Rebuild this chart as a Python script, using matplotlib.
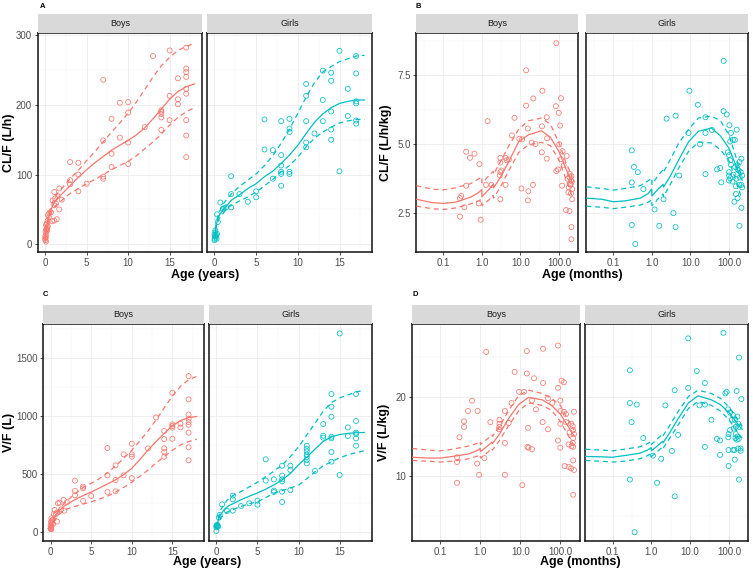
import numpy as np
import matplotlib
matplotlib.use("Agg")
import matplotlib.pyplot as plt
from matplotlib.ticker import FixedLocator, NullFormatter

plt.rcParams['font.family'] = ['Liberation Sans', 'DejaVu Sans']

boys_col = '#F8766D'
girls_col = '#00BFC4'

# ---------------- observed individual estimates ----------------
# panel A: CL/F (L/h) vs age (years)
cl_boys = [(13,270),(15,278),(17,282),(17,252),(17,247),(17,240),(7,236),(16,238),(9,203),(10,204),
           (10,189),(8,180),(15,213),(16,208),(16,201),(14,192),(14,190),(14,187),(14,182),(12,168),
           (15,178),(14,164),(17,178),(17,156),(17,125),(17,223),(17,216),(7,149),(9,153),(10,146),
           (8,130),(8,111),(10,115),(7,97),(7,94),(3,118),(4,117),(4,100),(3,92),(3,86),(5,87),(4,76),
           (1.7,80),(1.1,75),(1.5,69),(1.2,66),(2,64),(0.9,63),(1.7,50),(1.3,58),(1.1,56),(1.1,34),
           (1.4,36),(0.85,33),(0.5,45),(0.7,46),(0.35,42),(0.45,39),(0.3,34),(0.2,30),(0.25,24),
           (0.12,21),(0.1,28),(0.05,18),(0.15,15),(0.02,12),(0.08,10),(0.0,8),(0.03,6),(0.1,4),
           (0.2,22),(0.3,26),(0.25,20)]
cl_girls = [(15,277.5),(17,270),(13,249),(14,246),(14,234.5),(17,245),(11,230),(11,213),(16,223),
            (13,207),(14,190.5),(17,205),(17,202),(16,184),(6,179),(8,176.6),(9,180),(11,176.6),
            (13,176.6),(9,166),(9,161),(14,164.6),(14,150),(17,177.5),(17,173),(11,146),(11,139),
            (12,159),(6,136),(7,135),(8,128),(8,113),(8,104),(8,101),(9,104),(9,101),(7,94),(8,84),
            (15,104.7),(2,97.6),(2,72),(2,53),(3,72),(4,61),(5,76),(5,67.5),(0.7,60),(1.4,53),
            (1.2,52),(1.0,51),(0.3,43),(0.4,32),(0.1,20),(0.1,17),(0,14),(0.05,12),(0.15,10),
            (0.02,8),(0.25,8),(0,6),(0.3,15),(0.2,13)]

# panel B: CL/F (L/h/kg) vs age (months)
clkg_boys = [(85,8.66),(14,7.68),(37,6.94),(21.5,6.66),(14,6.40),(112,6.67),(83,6.38),(98,6.14),
             (1.4,5.84),(7,5.96),(48,5.98),(107,5.68),(15.5,5.57),(36,5.65),(6,5.32),(9.3,5.2),
             (11,5.18),(19.5,5.06),(24.5,5.01),(49,5.22),(101,5.0),(35.7,4.71),(48,4.48),(85,4.03),
             (94,4.09),(112,4.46),(123,4.75),(132,4.24),(158,4.58),(120,3.50),(166,3.75),(186,3.81),
             (204,3.69),(209,3.85),(219,3.38),(174,3.26),(204,3.22),(219,3.01),(151,2.62),(186,2.58),
             (209,2.0),(209,1.56),(178,3.44),(195,3.56),(0.39,4.73),(0.49,4.51),(0.64,4.66),
             (0.86,4.28),(0.39,3.50),(0.29,3.13),(0.27,3.05),(0.35,2.72),(0.27,2.38),(0.83,2.86),
             (0.93,2.27),(1.27,3.53),(1.77,3.53),(3,4.51),(3,4.34),(3,3.99),(2.9,3.87),(3,3.01),
             (4.1,4.51),(4.4,4.42),(4.1,3.53),(10.6,3.40),(16,3.30),(15.5,2.97),(21,3.53),(3.2,4.05),
             (5,4.45),(200,3.55),(190,3.93),(215,3.65)]
clkg_girls = [(72.5,8.02),(9.4,6.94),(15.5,6.43),(2.4,5.93),(4.1,6.04),(72,6.20),(87,6.08),(24.5,5.98),
              (8.9,5.41),(24.5,5.41),(36,5.52),(102,5.69),(158,5.53),(112,5.41),(126,5.16),(141,5.16),
              (107,5.10),(17.6,5.0),(93,4.71),(100,4.61),(107,4.42),(112,4.26),(209,4.48),(186,4.36),
              (166,4.24),(145,4.18),(166,4.09),(178,4.05),(200,3.99),(219,3.87),(100,3.99),(100,3.87),
              (107,3.77),(100,3.69),(123,3.65),(151,3.48),(186,3.53),(209,3.53),(219,3.44),(63,3.62),
              (49,4.09),(59,4.14),(24.5,3.92),(5.1,3.87),(0.30,4.78),(0.34,4.18),(0.43,3.99),
              (0.30,3.62),(0.6,3.38),(2.0,3.01),(1.17,2.64),(0.30,2.08),(0.37,1.39),(1.55,2.05),
              (3.6,2.51),(4.1,2.0),(138,2.92),(166,3.05),(186,2.05),(209,2.70),(151,3.2),(130,3.9),
              (155,3.75),(190,3.8)]

# panel C: V/F (L) vs age (years)
v_boys = [(17,1342),(15,1199),(17,1142),(13,987),(17,1012),(17,976),(17,947),(17,924),(15,927),
          (15,913),(15,899),(16,933),(16,901),(17,856),(14,870),(14,801),(14,721),(14,693),(14,650),
          (15,804),(17,730),(17,618),(12,721),(7,724),(10,761),(10,670),(10,650),(9,670),(8,575),
          (7,489),(9,489),(8,449),(10,466),(8,352),(7,346),(3,444),(3,355),(3,318),(4,392),(4,378),
          (4,269),(5,312),(2,258),(1.6,278),(1.7,186),(1.3,197),(1.1,255),(0.9,249),(0.8,169),
          (0.65,155),(0.5,192),(0.4,157),(0.25,106),(0.1,120),(0.2,100),(0.05,90),(0.15,80),
          (0.3,70),(0.0,60),(0.1,50),(0.05,40),(0.0,30),(0.1,25),(0.8,92),(0,34)]
v_girls = [(15,1709),(14,1188),(17,1188),(14,1079),(14,993),(13,930),(13,830),(13,813),(14,821),
           (14,807),(16,901),(17,956),(17,856),(17,844),(16,827),(17,807),(17,744),(14,690),(14,607),
           (11,744),(11,718),(11,695),(11,667),(11,647),(11,621),(11,592),(12,527),(15,492),(6,627),
           (8,572),(9,572),(9,535),(6,444),(7,455),(8,487),(8,455),(8,438),(8,260),(7,358),(7,346),
           (8,349),(9,363),(5,272),(5,237),(4,249),(3,226),(2,315),(2,283),(2,186),(0.7,240),
           (1.3,183),(0.4,149),(0.3,126),(0.1,63),(0.0,54),(0.2,49),(0.0,43),(0.05,60),(0.15,57),
           (0,11)]

# panel D: V/F (L/kg) vs age (months)
vkg_boys = [(87,26.4),(37,26.0),(14.5,25.7),(1.4,25.6),(7.2,23.1),(14.5,22.9),(22,22.3),(37,21.7),
            (87,21.1),(107,22.0),(123,21.8),(9.3,20.6),(12.3,20.6),(19.5,19.5),(49,19.8),(63,19.2),
            (100,19.5),(24.5,18.4),(100,18.2),(123,18.1),(138,17.8),(219,18.1),(6,19.2),(0.62,19.5),
            (0.49,18.2),(0.39,16.9),(0.39,16.2),(0.85,18.2),(0.30,14.9),(0.26,12.4),(0.26,11.8),
            (0.26,9.2),(0.83,11.6),(0.93,10.2),(1.26,12.3),(1.78,16.8),(4.1,18.2),(3,17.1),(3,16.6),
            (3,16.2),(2.9,15.9),(4.1,14.2),(4.1,10.2),(5.1,16.7),(15.5,16.1),(15,13.7),(16,13.6),
            (19.5,13.4),(11.2,8.9),(36,16.8),(49,15.9),(87,14.5),(100,13.6),(100,16.6),(138,16.8),
            (186,16.6),(204,16.3),(209,15.8),(219,15.3),(209,14.8),(204,14.2),(190,13.8),(209,13.7),
            (128,11.3),(161,11.2),(186,11.0),(219,10.8),(209,12.0),(209,7.7),(170,15.5),(160,14.0)]
vkg_girls = [(72,28.0),(8.9,27.3),(182,24.9),(0.28,23.3),(14.8,23.2),(24,21.7),(8.9,21.1),(4.0,20.8),
             (87,20.6),(81,20.4),(158,20.7),(209,19.7),(0.28,19.2),(0.42,19.0),(2.3,18.9),(17.4,18.9),
             (24,19.0),(95,18.4),(107,18.0),(126,17.7),(120,17.1),(141,17.1),(166,17.5),(174,16.6),
             (186,16.2),(151,16.2),(132,16.0),(107,15.8),(98,15.3),(151,15.3),(166,15.0),(178,14.7),
             (96,14.9),(147,14.8),(158,14.6),(35.5,17.1),(0.31,16.8),(4.9,15.2),(0.62,14.8),(49,14.7),
             (59,14.5),(24,13.7),(98,13.3),(128,13.3),(138,13.3),(174,13.5),(200,13.5),(200,13.2),
             (59,12.7),(1.1,12.6),(1.8,12.2),(3.4,13.2),(98,11.3),(141,12.1),(0.28,9.6),(182,9.6),
             (1.4,9.2),(4.0,7.5),(0.37,3.0)]

# ---------------- model prediction curves (median, 5th, 95th) ----------------
age_grid = [0, 0.1, 0.25, 0.5, 1, 1.5, 2, 3, 4, 5, 6, 7, 8, 9, 10, 11, 12, 13, 14, 15, 16, 17, 18]
cl_boys_med = [6,18,30,43,58,66,72,84,96,107,117,126,135,142,149,157,167,180,194,208,219,226,230]
cl_boys_hi = [8,20,33,47,63,73,80,94,106,120,133,147,161,174,188,204,222,240,256,268,278,284,288]
cl_boys_lo = [5,16,27,39,52,58,63,73,80,87,93,100,107,113,119,127,137,147,158,171,182,190,196]
cl_girls_med = [9,20,30,40,49,56,63,71,80,87,97,105,116,128,142,159,175,187,196,202,205,207,207]
cl_girls_hi = [10,22,33,45,57,65,72,83,92,101,113,127,145,165,188,211,232,247,255,262,266,270,271]
cl_girls_lo = [8,18,27,36,44,51,56,62,68,75,84,93,104,113,125,140,152,161,168,174,177,179,179]
v_boys_med = [25,50,85,130,180,215,240,280,315,346,380,415,450,495,549,625,707,780,850,915,960,985,995]
v_boys_hi = [30,58,95,140,195,235,270,330,385,420,460,510,570,635,705,785,870,965,1070,1170,1255,1310,1340]
v_boys_lo = [20,42,75,105,150,180,200,222,242,262,285,310,345,385,430,480,535,595,650,705,750,780,800]
v_girls_med = [40,70,110,150,200,228,245,280,310,338,370,408,449,505,580,645,715,780,820,840,850,855,858]
v_girls_hi = [45,80,130,190,250,290,315,350,390,430,478,525,578,650,735,835,936,1040,1115,1155,1180,1205,1222]
v_girls_lo = [35,55,85,120,160,180,195,222,245,262,298,335,358,380,405,460,520,570,607,640,665,685,700]

month_grid = [0.02, 0.05, 0.1, 0.2, 0.5, 0.8, 0.99, 1.0, 1.5, 1.95, 2.0, 3, 5, 9, 16, 35, 60, 100, 150, 200, 220]
clkg_boys_med = [3.01,2.89,2.86,2.90,3.08,3.24,3.36,3.10,3.36,3.55,3.42,3.80,4.38,5.10,5.34,5.49,5.25,4.73,4.12,3.75,3.62]
clkg_boys_hi = [3.50,3.38,3.35,3.42,3.57,3.74,3.82,3.60,3.85,4.02,3.92,4.36,4.95,5.55,5.85,5.95,5.72,5.05,4.35,3.95,3.80]
clkg_boys_lo = [2.76,2.67,2.64,2.69,2.84,2.95,3.00,2.78,2.98,3.15,3.05,3.45,4.05,4.70,4.98,5.07,4.95,4.42,3.75,3.25,3.10]
clkg_girls_med = [3.05,3.01,2.92,2.95,3.05,3.22,3.38,3.13,3.40,3.55,3.45,3.85,4.45,5.10,5.47,5.59,5.30,4.85,4.24,3.78,3.70]
clkg_girls_hi = [3.46,3.40,3.34,3.40,3.50,3.68,3.78,3.55,3.90,4.08,4.00,4.45,5.05,5.55,5.95,6.02,5.85,5.34,4.55,3.95,3.85]
clkg_girls_lo = [2.76,2.72,2.67,2.72,2.80,2.90,3.00,2.78,3.05,3.20,3.10,3.55,4.15,4.75,5.08,5.05,4.80,4.40,3.70,3.15,3.00]
vkg_boys_med = [12.4,12.3,12.3,12.5,12.8,13.2,13.5,13.1,13.8,14.3,14.1,15.3,17.2,19.0,19.9,19.6,18.9,17.8,16.4,15.4,15.1]
vkg_boys_hi = [13.5,13.3,13.2,13.4,13.8,14.1,14.4,14.0,14.7,15.2,15.0,16.2,18.2,20.1,20.8,20.4,19.8,18.9,17.3,16.2,15.8]
vkg_boys_lo = [12.0,11.9,11.8,11.9,12.2,12.5,12.7,12.3,13.0,13.5,13.3,14.5,16.3,18.2,19.2,18.9,18.3,16.9,15.3,14.2,13.9]
vkg_girls_med = [12.5,12.45,12.4,12.6,12.9,13.3,13.6,13.2,13.9,14.4,14.2,15.5,17.3,19.2,20.1,19.6,19.0,18.0,16.9,16.1,15.9]
vkg_girls_hi = [13.4,13.3,13.2,13.4,13.7,14.1,14.4,14.0,14.8,15.3,15.1,16.4,18.2,20.0,20.8,20.4,19.8,18.7,17.5,16.6,16.3]
vkg_girls_lo = [12.0,11.9,11.8,11.9,12.2,12.6,12.9,12.5,13.2,13.7,13.5,14.8,16.5,18.5,19.4,18.9,18.2,17.1,15.9,15.0,14.8]

W, H = 753, 572
fig = plt.figure(figsize=(W / 100, H / 100), dpi=100)


def rect(x0, x1, y0, y1):
    return [x0 / W, 1 - y1 / H, (x1 - x0) / W, (y1 - y0) / H]


def facet(xs, ys, title, obs, grid, med, lo, hi, col, logx, xlim, ylim,
          yticks, ylabels, yminor, first):
    ax = fig.add_axes(rect(xs[0], xs[1], ys[0], ys[1]))
    st = fig.add_axes(rect(xs[0], xs[1], ys[0] - 19, ys[0]))
    st.set_facecolor('#D9D9D9')
    st.set_xticks([]); st.set_yticks([])
    for s in st.spines.values():
        s.set_visible(False)
    st.text(0.5, 0.5, title, ha='center', va='center', fontsize=6.5, color='#1A1A1A')

    o = np.array(obs, dtype=float)
    ax.scatter(o[:, 0], o[:, 1], s=13, facecolors='none', edgecolors=col,
               linewidths=0.55, zorder=3)
    ax.plot(grid, med, color=col, lw=0.9, zorder=4)
    ax.plot(grid, lo, color=col, lw=0.9, ls=(0, (4, 3)), zorder=4)
    ax.plot(grid, hi, color=col, lw=0.9, ls=(0, (4, 3)), zorder=4)

    if logx:
        ax.set_xscale('log')
        ax.set_xticks([0.1, 1, 10, 100])
        ax.set_xticklabels(['0.1', '1.0', '10.0', '100.0'])
        ax.xaxis.set_minor_locator(FixedLocator([0.0316, 0.316, 3.16, 31.6, 316]))
    else:
        ax.set_xticks([0, 5, 10, 15])
        ax.set_xticklabels(['0', '5', '10', '15'])
        ax.xaxis.set_minor_locator(FixedLocator([2.5, 7.5, 12.5, 17.5]))
    ax.xaxis.set_minor_formatter(NullFormatter())
    ax.set_yticks(yticks)
    ax.set_yticklabels(ylabels)
    ax.yaxis.set_minor_locator(FixedLocator(yminor))
    ax.yaxis.set_minor_formatter(NullFormatter())
    ax.set_xlim(*xlim)
    ax.set_ylim(*ylim)

    ax.grid(which='major', color='#EBEBEB', lw=0.6)
    ax.grid(which='minor', color='#F3F3F3', lw=0.35)
    ax.set_axisbelow(True)
    for s in ax.spines.values():
        s.set_color('#111111'); s.set_linewidth(1.1)
    ax.tick_params(which='major', direction='out', length=2.5, width=0.6,
                   color='#333333', labelsize=7, labelcolor='#4D4D4D', pad=1.5)
    ax.tick_params(which='minor', length=0)
    if not first:
        ax.tick_params(axis='y', which='both', left=False, labelleft=False)
    return ax


top = (33, 252)
bot = (324, 541)
yrs_lim = (-0.9, 18.9)
mon_lim = (0.0195, 310)

# A
ykw = dict(ylim=(-11, 303), yticks=[0, 100, 200, 300], ylabels=['0', '100', '200', '300'],
           yminor=[50, 150, 250])
facet((37.7, 202), top, 'Boys', cl_boys, age_grid, cl_boys_med, cl_boys_lo, cl_boys_hi,
      boys_col, False, yrs_lim, first=True, **ykw)
facet((207, 372), top, 'Girls', cl_girls, age_grid, cl_girls_med, cl_girls_lo, cl_girls_hi,
      girls_col, False, yrs_lim, first=False, **ykw)
# B
ykw = dict(ylim=(1.1, 9.03), yticks=[2.5, 5.0, 7.5], ylabels=['2.5', '5.0', '7.5'],
           yminor=[3.75, 6.25, 8.75])
facet((416, 578), top, 'Boys', clkg_boys, month_grid, clkg_boys_med, clkg_boys_lo, clkg_boys_hi,
      boys_col, True, mon_lim, first=True, **ykw)
facet((586, 748), top, 'Girls', clkg_girls, month_grid, clkg_girls_med, clkg_girls_lo,
      clkg_girls_hi, girls_col, True, mon_lim, first=False, **ykw)
# C
ykw = dict(ylim=(-75, 1790), yticks=[0, 500, 1000, 1500], ylabels=['0', '500', '1000', '1500'],
           yminor=[250, 750, 1250, 1750])
facet((43.3, 204), bot, 'Boys', v_boys, age_grid, v_boys_med, v_boys_lo, v_boys_hi,
      boys_col, False, yrs_lim, first=True, **ykw)
facet((209, 371.7), bot, 'Girls', v_girls, age_grid, v_girls_med, v_girls_lo, v_girls_hi,
      girls_col, False, yrs_lim, first=False, **ykw)
# D
ykw = dict(ylim=(1.9, 29.1), yticks=[10, 20], ylabels=['10', '20'], yminor=[5, 15, 25])
facet((412, 580), bot, 'Boys', vkg_boys, month_grid, vkg_boys_med, vkg_boys_lo, vkg_boys_hi,
      boys_col, True, mon_lim, first=True, **ykw)
facet((585, 748), bot, 'Girls', vkg_girls, month_grid, vkg_girls_med, vkg_girls_lo, vkg_girls_hi,
      girls_col, True, mon_lim, first=False, **ykw)

# titles and letters
def ftext(x, y, s, **kw):
    fig.text(x / W, 1 - y / H, s, **kw)

lab = dict(fontsize=9, fontweight='bold', color='black', ha='center', va='center')
ftext(9, 143, 'CL/F (L/h)', rotation=90, **lab)
ftext(386, 143, 'CL/F (L/h/kg)', rotation=90, **lab)
ftext(9, 432, 'V/F (L)', rotation=90, **lab)
ftext(384, 432, 'V/F (L/kg)', rotation=90, **lab)
ftext(205, 275, 'Age (years)', **lab)
ftext(582, 275, 'Age (months)', **lab)
ftext(207, 562, 'Age (years)', **lab)
ftext(580, 562, 'Age (months)', **lab)

let = dict(fontsize=5.5, fontweight='bold', ha='left', va='center')
ftext(40, 6, 'A', **let)
ftext(416, 6, 'B', **let)
ftext(43, 295, 'C', **let)
ftext(413, 295, 'D', **let)

fig.savefig('out.png', dpi=100)
